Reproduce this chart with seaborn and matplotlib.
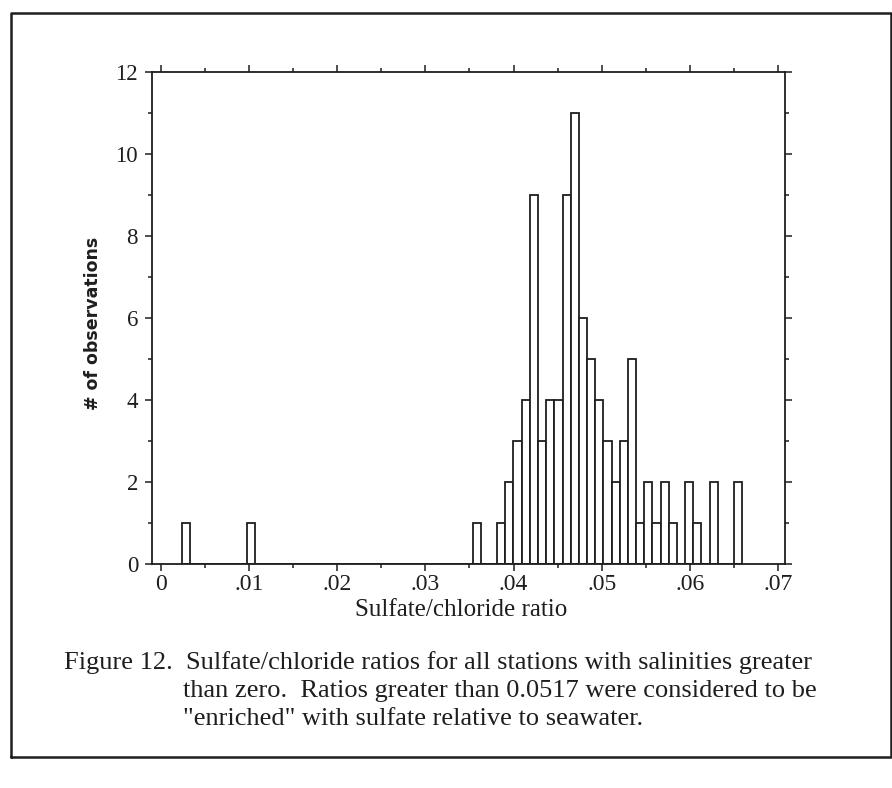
import matplotlib
matplotlib.use("Agg")
import matplotlib.pyplot as plt
import seaborn as sns
import numpy as np
import pandas as pd
from matplotlib.ticker import MultipleLocator, FixedLocator, FixedFormatter
from matplotlib.lines import Line2D

# sulfate/chloride ratio histogram
bin_width = 0.000927
iso_left = [0.00238, 0.00976, 0.03540]
iso_counts = [1, 1, 1]
dense_start = 0.03814
dense_counts = [1, 2, 3, 4, 9, 3, 4, 4, 9, 11, 6, 5, 4, 3, 2,
                3, 5, 1, 2, 1, 2, 1, 0, 2, 1, 0, 2, 0, 0, 2]

x_ticks = [0, 0.01, 0.02, 0.03, 0.04, 0.05, 0.06, 0.07]
x_labels = ["0", ".01", ".02", ".03", ".04", ".05", ".06", ".07"]
y_ticks = [0, 2, 4, 6, 8, 10, 12]

caption = [
    "Figure 12.  Sulfate/chloride ratios for all stations with salinities greater",
    "than zero.  Ratios greater than 0.0517 were considered to be",
    "\"enriched\" with sulfate relative to seawater.",
]

# bin edges and bar centres
edges = []
for left in iso_left:
    edges += [left, left + bin_width]
dense_edges = dense_start + bin_width * np.arange(len(dense_counts) + 1)
edges = [float(e) for e in edges + list(dense_edges)]
centers = [l + bin_width / 2 for l in iso_left] + list(dense_edges[:-1] + bin_width / 2)
df = pd.DataFrame({"ratio": centers, "n": iso_counts + dense_counts})

sns.set_theme(style="white")
plt.rcParams["font.family"] = ["Liberation Serif", "DejaVu Serif"]
ink = "#1e1e1e"

fig = plt.figure(figsize=(8.92, 7.88), dpi=100)
ax = fig.add_axes([152 / 892, 1 - 564 / 788, (785 - 152) / 892, (564 - 72) / 788])

sns.histplot(data=df, x="ratio", weights="n", bins=edges, ax=ax,
             color="white", edgecolor=ink, linewidth=1.3, alpha=1)

ax.set_xlim(-0.00102, 0.0708)
ax.set_ylim(0, 12)
ax.xaxis.set_major_locator(FixedLocator(x_ticks))
ax.xaxis.set_major_formatter(FixedFormatter(x_labels))
ax.xaxis.set_minor_locator(MultipleLocator(0.005))
ax.yaxis.set_major_locator(FixedLocator(y_ticks))
ax.yaxis.set_minor_locator(MultipleLocator(1))
ax.tick_params(which="both", direction="out", color=ink, width=1.1,
               top=True, right=True, labeltop=False, labelright=False,
               bottom=True, left=True)
ax.tick_params(which="major", length=5, labelcolor=ink)
ax.tick_params(axis="x", which="major", pad=2.5, labelsize=17)
ax.tick_params(axis="y", which="major", pad=5, labelsize=16.5)
ax.tick_params(which="minor", length=3)
for s in ax.spines.values():
    s.set_color(ink)
    s.set_linewidth(1.3)
ax.set_ylabel("")
ax.set_xlabel("")

fig.text(461 / 892, 1 - 616 / 788, "Sulfate/chloride ratio", ha="center", va="baseline",
         fontsize=18, color=ink)
fig.text(93 / 892, 1 - 323 / 788, "# of observations", rotation=90, ha="center",
         va="center", fontsize=12.5, fontweight="bold", color=ink,
         family=["Liberation Sans Narrow", "DejaVu Sans"])

fig.text(64 / 892, 1 - 669 / 788, caption[0], ha="left", va="baseline", fontsize=19, color=ink)
fig.text(183 / 892, 1 - 697 / 788, caption[1], ha="left", va="baseline", fontsize=19, color=ink)
fig.text(183 / 892, 1 - 725 / 788, caption[2], ha="left", va="baseline", fontsize=19, color=ink)

# scanned page frame
fx = [11 / 892, 11 / 892, 891 / 892, 891 / 892, 11 / 892]
fy = [1 - 757 / 788, 1 - 13 / 788, 1 - 13 / 788, 1 - 757 / 788, 1 - 757 / 788]
fig.add_artist(Line2D(fx, fy, transform=fig.transFigure, color=ink, linewidth=1.8))

fig.savefig("out.png", dpi=100)
